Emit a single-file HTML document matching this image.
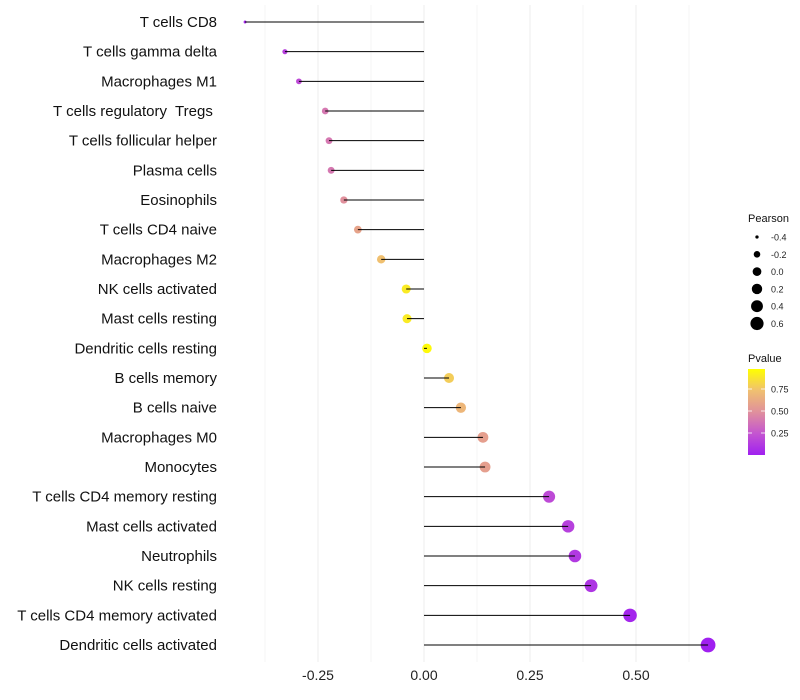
<!DOCTYPE html>
<html><head><meta charset="utf-8"><style>
body{margin:0;background:#fff;}
svg{display:block;font-family:"Liberation Sans",sans-serif;}
text{white-space:pre;}
</style></head><body>
<svg id="c" width="800" height="700">
<defs><linearGradient id="pg" x1="0" y1="1" x2="0" y2="0">
<stop offset="0" stop-color="#a020f0"/><stop offset="0.25" stop-color="#c455d0"/><stop offset="0.5" stop-color="#e0909c"/><stop offset="0.75" stop-color="#f0c070"/><stop offset="1" stop-color="#ffff00"/>
</linearGradient></defs>
</svg>
<script>
const categories=["T cells CD8","T cells gamma delta","Macrophages M1","T cells regulatory  Tregs ","T cells follicular helper","Plasma cells","Eosinophils","T cells CD4 naive","Macrophages M2","NK cells activated","Mast cells resting","Dendritic cells resting","B cells memory","B cells naive","Macrophages M0","Monocytes","T cells CD4 memory resting","Mast cells activated","Neutrophils","NK cells resting","T cells CD4 memory activated","Dendritic cells activated"];
const pearson=[-0.422,-0.328,-0.295,-0.233,-0.224,-0.219,-0.189,-0.156,-0.101,-0.042,-0.040,0.007,0.059,0.087,0.139,0.144,0.295,0.340,0.356,0.394,0.486,0.670];
const pvalue=[0.03,0.15,0.2,0.4,0.4,0.4,0.5,0.6,0.75,0.92,0.92,0.98,0.8,0.7,0.58,0.58,0.2,0.15,0.12,0.1,0.03,0.001];
const xTicks=[-0.25,0,0.25,0.5];
const xTickLabels=["-0.25","0.00","0.25","0.50"];
const legendSizes=[-0.4,-0.2,0.0,0.2,0.4,0.6];
const legendSizeLabels=["-0.4","-0.2","0.0","0.2","0.4","0.6"];
const pTicks=[0.25,0.5,0.75];
const pTickLabels=["0.25","0.50","0.75"];

const svg=document.getElementById('c');
const NS='http://www.w3.org/2000/svg';
function mk(t,a,p){const e=document.createElementNS(NS,t);for(const k in a)e.setAttribute(k,a[k]);(p||svg).appendChild(e);return e;}
const X=v=>424+v*424;
const Y=i=>22+i*(623/21);
const R=v=>Math.sqrt(Math.max(1.5,2.25+(v+0.42)*48));
const stops=[[0,[160,32,240]],[0.25,[196,85,208]],[0.5,[224,144,156]],[0.75,[240,192,112]],[1,[255,255,0]]];
function col(p){for(let i=0;i<stops.length-1;i++){const [a,ca]=stops[i],[b,cb]=stops[i+1];if(p<=b){const t=(p-a)/(b-a);return 'rgb('+ca.map((c,j)=>Math.round(c+(cb[j]-c)*t)).join(',')+')';}}return 'rgb(255,255,0)';}

[-0.375,-0.125,0.125,0.375,0.625].forEach(v=>{const g=mk('line',{x1:X(v),x2:X(v),y1:5,y2:662,stroke:'#f6f6f6','stroke-width':1});

});
xTicks.forEach((v,i)=>{const g=mk('line',{x1:X(v),x2:X(v),y1:5,y2:662,stroke:'#efefef','stroke-width':1.2});


const t=mk('text',{x:X(v),y:680,'text-anchor':'middle','font-size':14,fill:'#222'});t.textContent=xTickLabels[i];

});

categories.forEach((c,i)=>{
const y=Y(i);
const t=mk('text',{x:217,y:y+5,'text-anchor':'end','font-size':15,fill:'#111'});t.textContent=c;


const d=mk('circle',{cx:X(pearson[i]),cy:y,r:R(pearson[i]),fill:col(pvalue[i])});


const l=mk('line',{x1:X(0),x2:X(pearson[i]),y1:y,y2:y,stroke:'#000','stroke-width':1});


});

const lt=mk('text',{x:748,y:222,'font-size':11,fill:'#111'});lt.textContent='Pearson';


legendSizes.forEach((v,i)=>{const y=237+i*17.3;
const c=mk('circle',{cx:757,cy:y,r:R(v)*0.92,fill:'#000'});


const t=mk('text',{x:771,y:y+3.5,'font-size':9,fill:'#222'});t.textContent=legendSizeLabels[i];

});
const pt=mk('text',{x:748,y:362,'font-size':11,fill:'#111'});pt.textContent='Pvalue';


const bar=mk('rect',{x:748,y:369,width:17,height:86,fill:'url(#pg)'});


const PY=p=>455-p*88;
pTicks.forEach((p,i)=>{
const tk=mk('line',{x1:748,x2:752,y1:PY(p),y2:PY(p),stroke:'#fff','stroke-width':0.8});


const tk2=mk('line',{x1:761,x2:765,y1:PY(p),y2:PY(p),stroke:'#fff','stroke-width':0.8});


const t=mk('text',{x:771,y:PY(p)+3.5,'font-size':9,fill:'#222'});t.textContent=pTickLabels[i];

});
</script>
</body></html>
